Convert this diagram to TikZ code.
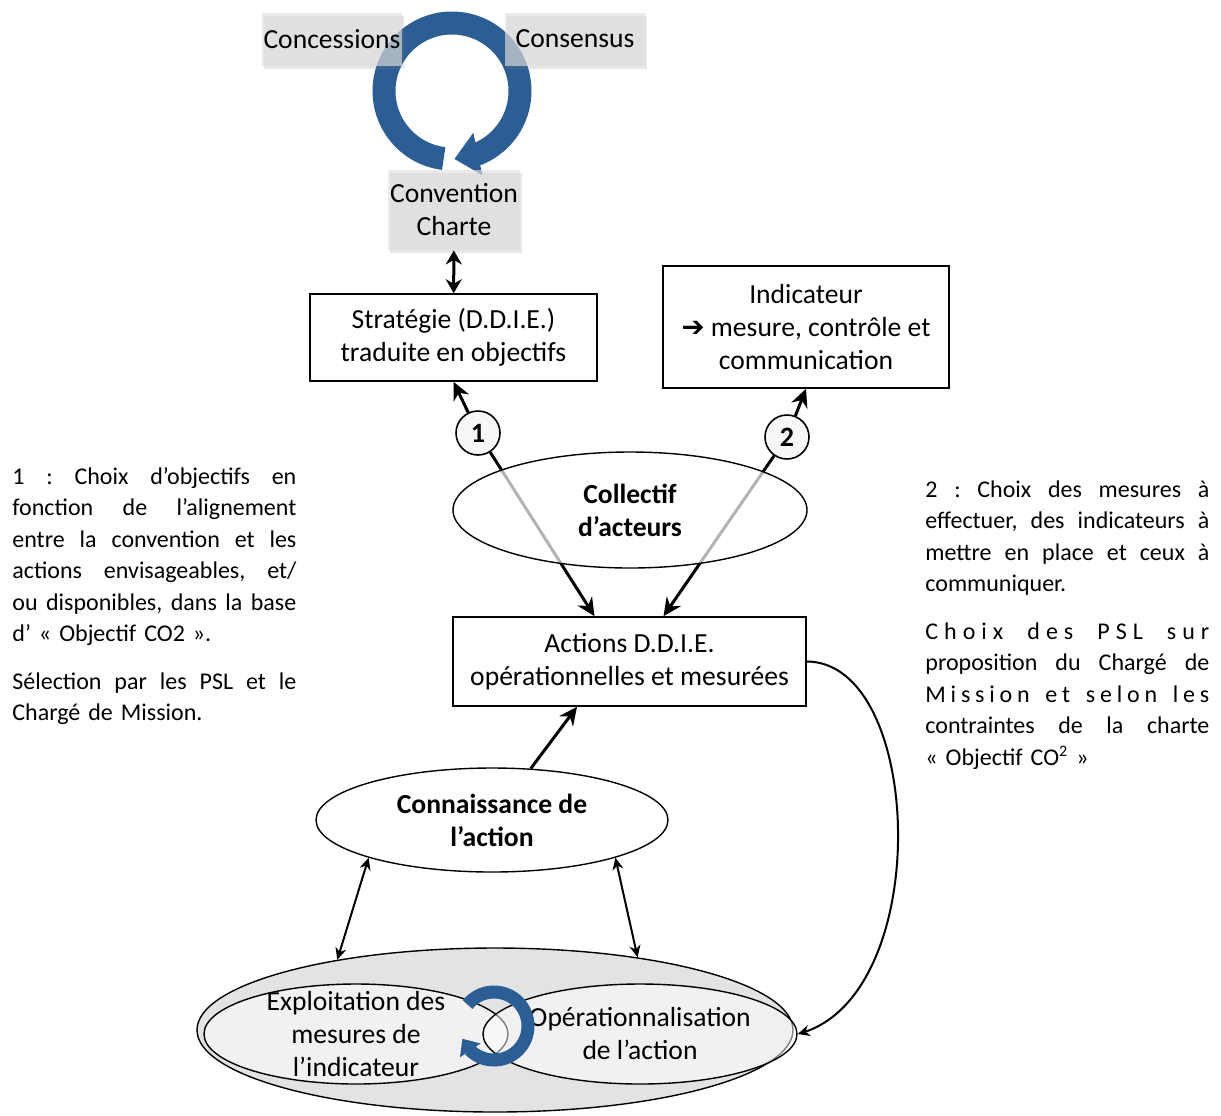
\documentclass[tikz,border=0pt]{standalone}
\usepackage{fontspec}
\setmainfont{Carlito}
\newfontfamily\symbfont{DejaVu Sans}
\usetikzlibrary{arrows.meta,calc,shapes.geometric,shadows,bending}
\definecolor{cycleblue}{HTML}{2C5E96}
\definecolor{boxgray}{HTML}{DEDEDE}
\definecolor{cyclegray}{HTML}{E3E3E3}
\newcommand{\pleine}[1]{\leavevmode\hbox to 142pt{\spaceskip=0.22em plus 1fil\relax#1}}

\tikzset{
  txt/.style={font=\fontsize{13.8}{16.5}\selectfont, align=center},
  graybox/.style={txt, fill=boxgray, fill opacity=0.65, text opacity=1, inner sep=0pt,
    minimum width=70pt, minimum height=26.5pt,
    drop shadow={opacity=0.2, shadow xshift=1.2pt, shadow yshift=-1.5pt}},
  boite/.style={txt, draw, line width=0.8pt, fill=white, inner sep=0pt},
  bulle/.style={txt, ellipse, draw, line width=0.7pt, inner sep=0pt},
  numero/.style={circle, draw, line width=0.8pt, fill=gray!6, minimum size=22pt, inner sep=0pt,
    font=\fontsize{14}{16}\selectfont\bfseries},
  note/.style={font=\fontsize{12}{15.75}\selectfont\frenchspacing, text width=142pt, align=left, inner sep=0pt},
  anneau/.style={cycleblue, line width=11.5pt, -{Triangle[length=12pt,width=21pt]}},
  petitanneau/.style={cycleblue, line width=6.5pt, -{Triangle[length=7pt,width=12pt]}},
  fleche/.style={line width=1.5pt, -{Stealth[length=9pt,width=8.5pt]}},
  dfleche/.style={line width=1.5pt, {Stealth[length=7pt,width=8pt]}-{Stealth[length=7pt,width=8pt]}},
  lien/.style={line width=1pt, {Stealth[length=6pt,width=5.5pt]}-{Stealth[length=6pt,width=5.5pt]}},
  retour/.style={line width=1pt, -{Stealth[length=6pt,width=5.5pt]}}
}

\begin{document}
\begin{tikzpicture}[x=0.5pt,y=-0.5pt]
  \useasboundingbox (0,0) rectangle (1221,1115);

  \draw[anneau] (452,91) ++(263:34pt) arc[start angle=263, end angle=-88, radius=34pt];
  \node[graybox] (concessions) at (332,39) {Concessions};
  \node[graybox] (consensus) at (575,39) {Consensus};
  \node[graybox, minimum width=66pt, minimum height=40pt] (convention) at (454,210) {Convention\\Charte};

  \node[boite, minimum width=143.5pt, minimum height=43.5pt] (strategie) at (453.5,337.5) {Stratégie (D.D.I.E.)\\traduite en objectifs};
  \node[boite, minimum width=143pt, minimum height=61pt] (indicateur) at (806,327) {Indicateur\\{\symbfont ➔} mesure, contrôle et\\communication};
  \node[boite, minimum width=176.5pt, minimum height=44.5pt] (actions) at (629.5,661.5) {Actions D.D.I.E.\\opérationnelles et mesurées};

  \node[numero] (numA) at (478,433) {1};
  \node[numero] (numB) at (787,437) {2};

  \draw[dfleche] (convention) -- (strategie);
  \draw[fleche] (numA) -- (strategie.south);
  \draw[fleche] (numA) -- ($(actions.north)+(-35,0)$);
  \draw[fleche] (numB) -- (indicateur.south);
  \draw[fleche] (numB) -- ($(actions.north)+(34,0)$);

  \node[bulle, font=\fontsize{13.8}{16.5}\selectfont\bfseries, fill=white, fill opacity=0.7, text opacity=1,
    minimum width=177pt, minimum height=58pt] (collectif) at (630,510) {Collectif\\d’acteurs};

  \node[bulle, font=\fontsize{13.8}{16.5}\selectfont\bfseries, fill=white,
    minimum width=176pt, minimum height=52pt] (connaissance) at (492,820) {Connaissance de\\l’action};
  \draw[fleche] (connaissance.53) -- ($(actions.south)+(-52.5,0)$);

  \node[bulle, fill=cyclegray, minimum width=298pt, minimum height=82pt] (cycle) at (495,1030) {};
  \node[bulle, fill=white, fill opacity=0.5, minimum width=152pt, minimum height=50pt,
    label={[txt]center:Exploitation des\\mesures de\\l’indicateur}] (exploitation) at (356,1034) {};
  \node[bulle, fill=white, fill opacity=0.5, minimum width=157pt, minimum height=50pt,
    label={[txt]center:Opérationnalisation\\de l’action}] (operation) at (640,1034) {};
  \draw[petitanneau] (494,1026) ++(141:17pt) arc[start angle=141, end angle=-158, radius=17pt];

  \draw[lien] (connaissance.197) -- (cycle.156);
  \draw[lien] (connaissance.343) -- (cycle.27);
  \draw[retour] (actions.east) .. controls (925,662) and (935,1000) .. (operation.east);

  \node[note, anchor=north west] (notegauche) at (12,467) {%
    \pleine{1 : Choix d’objectifs en}\\
    \pleine{fonction de l’alignement}\\
    \pleine{entre la convention et les}\\
    \pleine{actions envisageables, et/}\\
    \pleine{ou disponibles, dans la base}\\
    d’ «~Objectif CO2~».\\[8pt]
    \pleine{Sélection par les PSL et le}\\
    Chargé de Mission.};
  \node[note, anchor=north west] (notedroite) at (925,480) {%
    \pleine{2 : Choix des mesures à}\\
    \pleine{effectuer, des indicateurs à}\\
    \pleine{mettre en place et ceux à}\\
    communiquer.\\[8pt]
    \pleine{\addfontfeature{LetterSpace=25}Choix des PSL sur}\\
    \pleine{proposition du Chargé de}\\
    \pleine{\addfontfeature{LetterSpace=20}Mission et selon les}\\
    \pleine{contraintes de la charte}\\
    «~Objectif CO\textsuperscript{2}~»};
\end{tikzpicture}
\end{document}
